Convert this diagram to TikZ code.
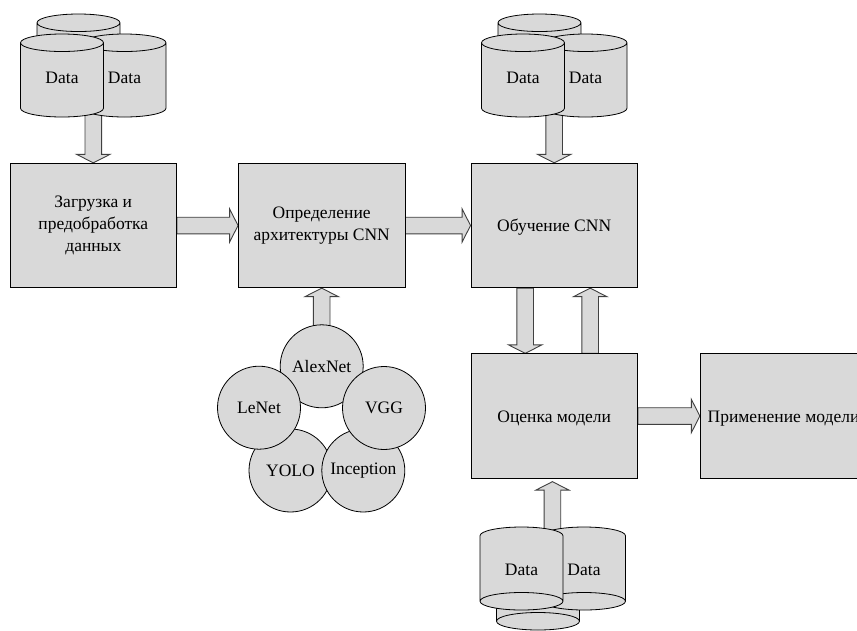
\documentclass[tikz,border=0pt]{standalone}
\usepackage{fontspec}
\setmainfont{Liberation Serif}
\usetikzlibrary{shapes.geometric,calc}
\pgfdeclarelayer{arrows}
\pgfsetlayers{arrows,main}
\definecolor{boxgray}{HTML}{D9D9D9}
\newcommand{\lowered}[2]{\raisebox{-#1}[\height][\depth]{#2}}
\tikzset{
  box/.style={draw=black,fill=boxgray,line width=0.8pt,minimum width=166.5pt,minimum height=124.5pt,inner sep=0pt,align=center,font=\fontsize{17.5}{22}\selectfont,execute at begin node=\rule{0pt}{16pt}},
  disc/.style={circle,draw=black,fill=boxgray,line width=0.8pt,minimum size=83pt,inner sep=0pt,font=\fontsize{17.5}{22}\selectfont},
  cylbase/.style={cylinder,draw=black,fill=boxgray,line width=0.8pt,minimum width=83pt,minimum height=83pt,aspect=0.53,inner sep=0pt,anchor=shape center,font=\fontsize{17.5}{22}\selectfont},
  cylup/.style={cylbase,shape border rotate=90},
  cyldown/.style={cylbase,shape border rotate=270},
  blk/.style={draw=black!75,fill=boxgray,line width=0.9pt,line join=miter}
}
\newcommand{\blockarrow}[2]{%
  \coordinate (A) at #1;
  \coordinate (B) at #2;
  \coordinate (H) at ($(B)!8.5pt!(A)$);
  \draw[blk] ($(A)!8.3pt!90:(B)$) -- ($(H)!8.3pt!-90:(A)$) -- ($(H)!16.7pt!-90:(A)$) -- (B)
    -- ($(H)!16.7pt!90:(A)$) -- ($(H)!8.3pt!90:(A)$) -- ($(A)!8.3pt!-90:(B)$) -- cycle;
}
\begin{document}
\begin{tikzpicture}[x=1pt,y=-1pt]
\useasboundingbox (0,0) rectangle (857,630);
\clip (0,0) rectangle (857,630);
% process boxes
\node[box] (load) at (93.3,225.5) {Загрузка и\\предобработка\\данных};
\node[box] (arch) at (321.7,225.5) {Определение\\архитектуры CNN};
\node[box] (train) at (554.2,225.5) {Обучение CNN};
\node[box] (eval) at (554.2,416) {Оценка модели};
\node[box] (apply) at (783.5,416) {Применение модели};
% data stacks
\node[cylup] (d1c) at (78.5,55.5) {\phantom{Data}};
\node[cylup] (d1b) at (124.5,75.5) {\lowered{-2pt}{Data}};
\node[cylup] (d1a) at (62,75.5) {\lowered{-2pt}{Data}};
\node[cylup] (d2c) at (539.5,55.5) {\phantom{Data}};
\node[cylup] (d2b) at (585.5,75.5) {\lowered{-2pt}{Data}};
\node[cylup] (d2a) at (523,75.5) {\lowered{-2pt}{Data}};
\node[cyldown] (d3c) at (538,588.5) {\phantom{Data}};
\node[cyldown] (d3b) at (584,568.5) {\lowered{6pt}{Data}};
\node[cyldown] (d3a) at (521.5,568.5) {\lowered{6pt}{Data}};
% networks
\node[disc] (alex) at (321.7,366.3) {AlexNet};
\node[disc] (yolo) at (290.5,470.5) {YOLO};
\node[disc] (incep) at (363.3,470.5) {Inception};
\node[disc] (lenet) at (259,407.7) {LeNet};
\node[disc] (vgg) at (384,408) {VGG};
% block arrows
\begin{pgfonlayer}{arrows}
\blockarrow{(load.north |- d1a.center)}{(load.north)}
\blockarrow{(train.north |- d2a.center)}{(train.north)}
\blockarrow{(load.east)}{(arch.west)}
\blockarrow{(arch.east)}{(train.west)}
\blockarrow{(alex.center)}{(arch.south)}
\blockarrow{($(train.south)+(-29,0)$)}{($(eval.north)+(-29,0)$)}
\blockarrow{($(eval.north)+(36,0)$)}{($(train.south)+(36,0)$)}
\blockarrow{(eval.east)}{(apply.west)}
\blockarrow{($(d3a.center)+(31,0)$)}{($(eval.south)+(-1.8,3)$)}
\end{pgfonlayer}
\end{tikzpicture}
\end{document}
